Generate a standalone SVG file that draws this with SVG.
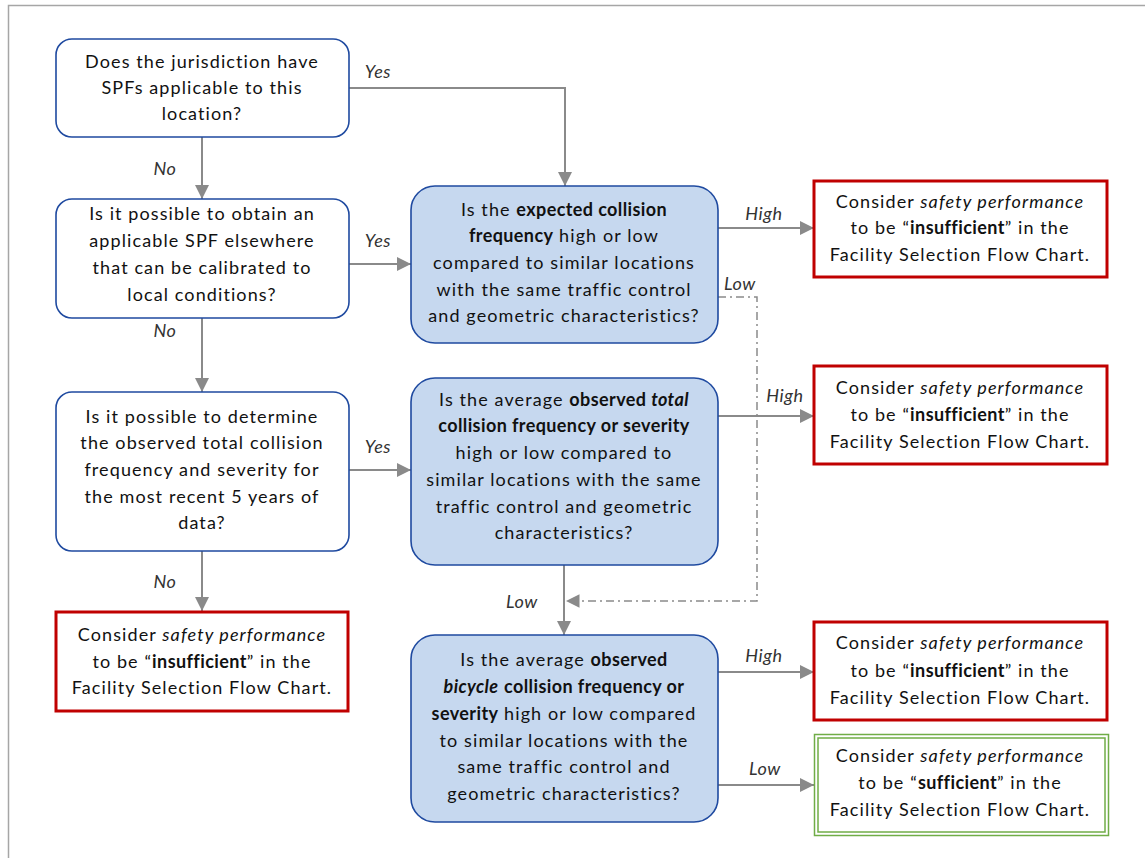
<svg xmlns="http://www.w3.org/2000/svg" width="1145" height="858" viewBox="0 0 1145 858">
  <style>
    .t { font-family: Lato, "Open Sans", "Liberation Sans", sans-serif; font-size: 18px; letter-spacing: 1.1px; fill: #111; text-anchor: middle; }
    .lbl { font-family: Lato, "Open Sans", "Liberation Sans", sans-serif; font-size: 18px; letter-spacing: 0.6px; font-style: italic; fill: #333; text-anchor: middle; }
    .b { font-weight: bold; letter-spacing: 0.4px; }
    .i { font-style: italic; }
    .q { fill: #fff; stroke: #1F4AA0; stroke-width: 1.6; }
    .qb { fill: #C6D8EF; stroke: #1F4AA0; stroke-width: 1.6; }
    .bad { fill: #fff; stroke: #C00000; stroke-width: 3; }
    .good { fill: none; stroke: #70AD47; stroke-width: 1.5; }
    .ln { fill: none; stroke: #8A8A8A; stroke-width: 2; }
    .dd { fill: none; stroke: #8A8A8A; stroke-width: 1.5; stroke-dasharray: 8 4 2 4; }
  </style>
  <defs>
    <marker id="arr" viewBox="0 0 10 10" refX="10" refY="5" markerWidth="7" markerHeight="7" markerUnits="strokeWidth" orient="auto">
      <path d="M0,0 L10,5 L0,10 z" fill="#8A8A8A"/>
    </marker>
    <marker id="arr2" viewBox="0 0 10 10" refX="10" refY="5" markerWidth="9" markerHeight="9" markerUnits="strokeWidth" orient="auto">
      <path d="M0,0 L10,5 L0,10 z" fill="#8A8A8A"/>
    </marker>
  </defs>

  <rect width="1145" height="858" fill="#fff"/>
  <!-- page frame -->
  <path d="M8.5,858 V5.5 H1145" fill="none" stroke="#A6A6A6" stroke-width="1.5"/>

  <g id="connectors">
    <!-- left column -->
    <path class="ln" d="M202,137 V199" marker-end="url(#arr)"/>
    <path class="ln" d="M202,318 V392" marker-end="url(#arr)"/>
    <path class="ln" d="M202,551 V611" marker-end="url(#arr)"/>
    <!-- yes branches -->
    <path class="ln" d="M349,88 H565 V186" marker-end="url(#arr)"/>
    <path class="ln" d="M349,264 H411" marker-end="url(#arr)"/>
    <path class="ln" d="M349,470 H411" marker-end="url(#arr)"/>
    <!-- high / low outcomes -->
    <path class="ln" d="M718,228 H814" marker-end="url(#arr)"/>
    <path class="ln" d="M718,416 H814" marker-end="url(#arr)"/>
    <path class="ln" d="M564,565 V635" marker-end="url(#arr)"/>
    <path class="dd" d="M718,297 H757 V601 H566" marker-end="url(#arr2)"/>
    <path class="ln" d="M718,672 H814" marker-end="url(#arr)"/>
    <path class="ln" d="M718,785 H814" marker-end="url(#arr)"/>

    <text class="lbl" x="378" y="78">Yes</text>
    <text class="lbl" x="165" y="175">No</text>
    <text class="lbl" x="378" y="247">Yes</text>
    <text class="lbl" x="165" y="337">No</text>
    <text class="lbl" x="378" y="453">Yes</text>
    <text class="lbl" x="165" y="588">No</text>
    <text class="lbl" x="764" y="220">High</text>
    <text class="lbl" x="740" y="290">Low</text>
    <text class="lbl" x="785" y="402">High</text>
    <text class="lbl" x="522" y="608">Low</text>
    <text class="lbl" x="764" y="662">High</text>
    <text class="lbl" x="765" y="775">Low</text>
  </g>

  <g id="q-spf">
    <rect class="q" x="56" y="39" width="293" height="98" rx="16"/>
    <text class="t" x="202" y="68">Does the jurisdiction have</text>
    <text class="t" x="202" y="94">SPFs applicable to this</text>
    <text class="t" x="202" y="120">location?</text>
  </g>

  <g id="q-obtain">
    <rect class="q" x="56" y="199" width="293" height="119" rx="16"/>
    <text class="t" x="202" y="220">Is it possible to obtain an</text>
    <text class="t" x="202" y="247">applicable SPF elsewhere</text>
    <text class="t" x="202" y="274">that can be calibrated to</text>
    <text class="t" x="202" y="301">local conditions?</text>
  </g>

  <g id="q-observed">
    <rect class="q" x="56" y="392" width="293" height="159" rx="16"/>
    <text class="t" x="202" y="423">Is it possible to determine</text>
    <text class="t" x="202" y="449">the observed total collision</text>
    <text class="t" x="202" y="476">frequency and severity for</text>
    <text class="t" x="202" y="503">the most recent 5 years of</text>
    <text class="t" x="202" y="529">data?</text>
  </g>

  <g id="r-no-data">
    <rect class="bad" x="56" y="612" width="292" height="99"/>
    <text class="t" x="202" y="641">Consider <tspan class="i">safety performance</tspan></text>
    <text class="t" x="202" y="668">to be “<tspan class="b">insufficient</tspan>” in the</text>
    <text class="t" x="202" y="694">Facility Selection Flow Chart.</text>
  </g>

  <g id="q-expected">
    <rect class="qb" x="411" y="186" width="307" height="157" rx="24"/>
    <text class="t" x="564" y="216">Is the <tspan class="b">expected collision</tspan></text>
    <text class="t" x="564" y="242"><tspan class="b">frequency</tspan> high or low</text>
    <text class="t" x="564" y="269">compared to similar locations</text>
    <text class="t" x="564" y="296">with the same traffic control</text>
    <text class="t" x="564" y="322">and geometric characteristics?</text>
  </g>

  <g id="q-total">
    <rect class="qb" x="411" y="378" width="307" height="187" rx="24"/>
    <text class="t" x="564" y="406">Is the average <tspan class="b">observed <tspan class="i">total</tspan></tspan></text>
    <text class="t" x="564" y="432"><tspan class="b">collision frequency or severity</tspan></text>
    <text class="t" x="564" y="459">high or low compared to</text>
    <text class="t" x="564" y="486">similar locations with the same</text>
    <text class="t" x="564" y="513">traffic control and geometric</text>
    <text class="t" x="564" y="539">characteristics?</text>
  </g>

  <g id="q-bicycle">
    <rect class="qb" x="411" y="635" width="307" height="187" rx="24"/>
    <text class="t" x="564" y="666">Is the average <tspan class="b">observed</tspan></text>
    <text class="t" x="564" y="693"><tspan class="b i">bicycle</tspan> <tspan class="b">collision frequency or</tspan></text>
    <text class="t" x="564" y="720"><tspan class="b">severity</tspan> high or low compared</text>
    <text class="t" x="564" y="747">to similar locations with the</text>
    <text class="t" x="564" y="773">same traffic control and</text>
    <text class="t" x="564" y="800">geometric characteristics?</text>
  </g>

  <g id="r-expected-high">
    <rect class="bad" x="814" y="181" width="293" height="96"/>
    <text class="t" x="960" y="208">Consider <tspan class="i">safety performance</tspan></text>
    <text class="t" x="960" y="234">to be “<tspan class="b">insufficient</tspan>” in the</text>
    <text class="t" x="960" y="261">Facility Selection Flow Chart.</text>
  </g>

  <g id="r-total-high">
    <rect class="bad" x="814" y="366" width="293" height="98"/>
    <text class="t" x="960" y="394">Consider <tspan class="i">safety performance</tspan></text>
    <text class="t" x="960" y="421">to be “<tspan class="b">insufficient</tspan>” in the</text>
    <text class="t" x="960" y="448">Facility Selection Flow Chart.</text>
  </g>

  <g id="r-bicycle-high">
    <rect class="bad" x="814" y="622" width="293" height="98"/>
    <text class="t" x="960" y="649">Consider <tspan class="i">safety performance</tspan></text>
    <text class="t" x="960" y="677">to be “<tspan class="b">insufficient</tspan>” in the</text>
    <text class="t" x="960" y="704">Facility Selection Flow Chart.</text>
  </g>

  <g id="r-bicycle-low">
    <rect x="814" y="734" width="295" height="102" fill="#fff"/>
    <rect class="good" x="814.5" y="734.5" width="294" height="101"/>
    <rect class="good" x="818" y="738" width="287" height="94"/>
    <text class="t" x="960" y="762">Consider <tspan class="i">safety performance</tspan></text>
    <text class="t" x="960" y="789">to be “<tspan class="b">sufficient</tspan>” in the</text>
    <text class="t" x="960" y="816">Facility Selection Flow Chart.</text>
  </g>
</svg>
